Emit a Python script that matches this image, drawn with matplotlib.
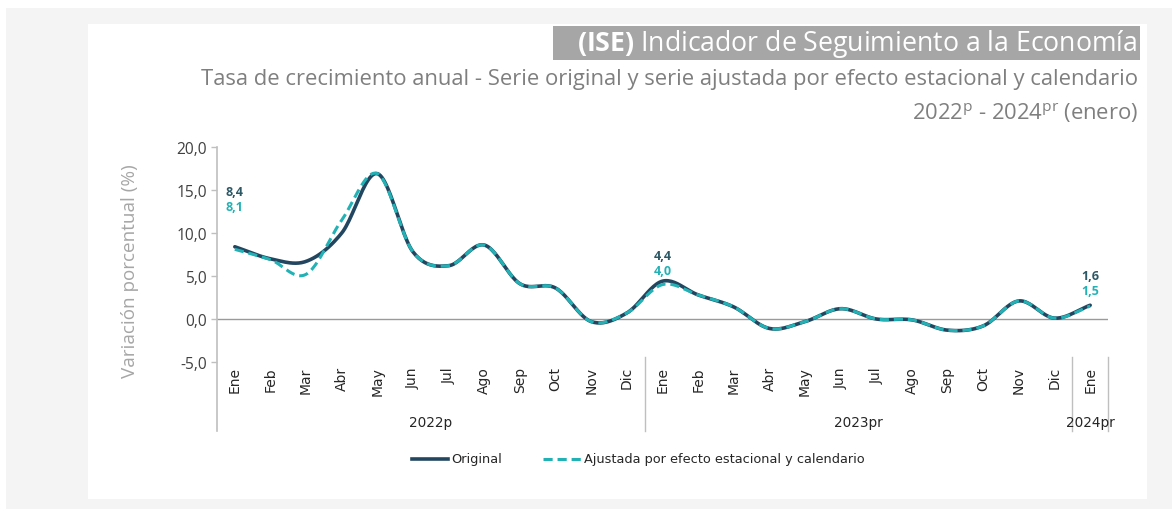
import numpy as np
import matplotlib.pyplot as plt
from matplotlib.patches import Rectangle
from matplotlib.lines import Line2D
from matplotlib.transforms import ScaledTranslation

# data (tasa de crecimiento anual, %)
months = ['Ene', 'Feb', 'Mar', 'Abr', 'May', 'Jun', 'Jul', 'Ago', 'Sep', 'Oct', 'Nov', 'Dic',
          'Ene', 'Feb', 'Mar', 'Abr', 'May', 'Jun', 'Jul', 'Ago', 'Sep', 'Oct', 'Nov', 'Dic',
          'Ene']
years = ['2022p', '2023pr', '2024pr']
year_len = [12, 12, 1]
original = [8.4, 7.0, 6.7, 10.0, 16.9, 7.8, 6.2, 8.6, 4.1, 3.6, -0.3, 0.7,
            4.4, 2.8, 1.4, -1.1, -0.3, 1.2, 0.0, -0.1, -1.3, -0.8, 2.1, 0.1,
            1.6]
ajustada = [8.1, 6.9, 5.2, 11.5, 16.9, 7.8, 6.2, 8.6, 4.1, 3.6, -0.3, 0.7,
            4.0, 2.8, 1.4, -1.1, -0.3, 1.2, 0.0, -0.1, -1.3, -0.8, 2.1, 0.1,
            1.5]
label_idx = [0, 12, 24]

c_orig = '#22465f'
c_adj = '#22b2b6'
narrow = ['Liberation Sans Narrow', 'DejaVu Sans']

plt.rcParams['font.family'] = ['Open Sans', 'DejaVu Sans']
plt.rcParams['mathtext.fontset'] = 'custom'
plt.rcParams['mathtext.rm'] = 'Open Sans'
plt.rcParams['mathtext.bf'] = 'Open Sans:bold'

W, H = 1172, 510
def fx(px):
    return px / W
def fy(py):
    return 1 - py / H

def smooth(y, n=24):
    # catmull-rom style smoothing, like the smoothed lines of the source chart
    y = np.asarray(y, float)
    p = np.concatenate([[2 * y[0] - y[1]], y, [2 * y[-1] - y[-2]]])
    xs, ys = [], []
    for i in range(len(y) - 1):
        p0, p1, p2, p3 = p[i], p[i + 1], p[i + 2], p[i + 3]
        t = np.linspace(0, 1, n, endpoint=False)
        yy = 0.5 * ((2 * p1) + (-p0 + p2) * t + (2 * p0 - 5 * p1 + 4 * p2 - p3) * t ** 2
                    + (-p0 + 3 * p1 - 3 * p2 + p3) * t ** 3)
        xs.append(i + t)
        ys.append(yy)
    xs.append([len(y) - 1])
    ys.append([y[-1]])
    return np.concatenate(xs), np.concatenate(ys)

fig = plt.figure(figsize=(W / 100, H / 100), dpi=100)
fig.patch.set_facecolor('white')
fig.add_artist(Rectangle((fx(6), 0), 1 - fx(6), fy(9), transform=fig.transFigure,
                         facecolor='#f4f4f4', edgecolor='none', zorder=0))
fig.add_artist(Rectangle((fx(88), fy(500)), fx(1147) - fx(88), fy(25) - fy(500),
                         transform=fig.transFigure, facecolor='white', edgecolor='none', zorder=0))

ax = fig.add_axes([fx(217), fy(363), fx(1108) - fx(217), fy(148) - fy(363)])
ax.set_facecolor('none')
x = np.arange(len(months))

sx, sy = smooth(original)
ax.plot(sx, sy, color=c_orig, lw=2.6, solid_capstyle='round', zorder=3)
sx, sy = smooth(ajustada)
ax.plot(sx, sy, color=c_adj, lw=2.2, dashes=(3, 1.6), zorder=4)

# data labels (offsets in inches above the point)
lab_off = [0.49, 0.19, 0.23]
for i, off in zip(label_idx, lab_off):
    ax.text(x[i], original[i], f'{original[i]:.1f}'.replace('.', ','), color='#2d5866',
            fontsize=9, fontweight='bold', ha='center', va='bottom',
            transform=ax.transData + ScaledTranslation(0, off, fig.dpi_scale_trans))
    ax.text(x[i], original[i], f'{ajustada[i]:.1f}'.replace('.', ','), color=c_adj,
            fontsize=9, fontweight='bold', ha='center', va='bottom',
            transform=ax.transData + ScaledTranslation(0, off - 0.15, fig.dpi_scale_trans))

ax.axhline(0, color='#9a9a9a', lw=1, zorder=1)
ax.set_xlim(-0.5, len(months) - 0.5)
ax.set_ylim(-5, 20)
yt = np.arange(-5, 21, 5)
ax.set_yticks(yt)
ax.set_yticklabels([f'{v:.1f}'.replace('.', ',') for v in yt], fontsize=11.2, color='#404040')
ax.tick_params(axis='y', length=4, color='#bfbfbf', width=1, pad=3)
ax.set_xticks(x)
ax.set_xticklabels(months, rotation=90, fontsize=10, color='#262626', family=narrow)
ax.tick_params(axis='x', length=0, pad=3)
for s in ['top', 'right', 'bottom', 'left']:
    ax.spines[s].set_visible(False)

# category axis separators and year labels
sep_tr = ax.get_xaxis_transform()
def ay(py):
    return (363 - py) / 215.0
ax.plot([-0.5, -0.5], [ay(432), 1], color='#bfbfbf', lw=1.2, transform=sep_tr, clip_on=False)
start = 0
for n, yr in zip(year_len, years):
    end = start + n
    ax.plot([end - 0.5, end - 0.5], [ay(432), ay(358)], color='#bfbfbf', lw=1,
            transform=sep_tr, clip_on=False)
    ax.text((start + end - 1) / 2, ay(423), yr, transform=sep_tr, ha='center', va='center',
            fontsize=9.8, color='#262626', family=narrow)
    start = end

fig.text(fx(130), fy(271), 'Variación porcentual (%)', rotation=90, ha='center', va='center',
         fontsize=13.6, color='#a6a6a6')

# titles
fig.add_artist(Rectangle((fx(553), fy(61)), fx(1140) - fx(553), fy(27) - fy(61),
                         transform=fig.transFigure, facecolor='#a6a6a6', edgecolor='none'))
fig.text(fx(1137), fy(44), r'$\mathbf{(ISE)}$ Indicador de Seguimiento a la Economía',
         ha='right', va='center', fontsize=19.2, color='white')
fig.text(fx(1138), fy(80), 'Tasa de crecimiento anual - Serie original y serie ajustada por efecto '
         'estacional y calendario', ha='right', va='center', fontsize=15.8, color='#7f7f7f')
fig.text(fx(1138), fy(113), r'2022$^{\mathrm{p}}$ - 2024$^{\mathrm{pr}}$ (enero)', ha='right',
         va='center', fontsize=15.8, color='#7f7f7f')

# legend
fig.add_artist(Line2D([fx(412), fx(448)], [fy(460), fy(460)], color=c_orig, lw=2.6,
                      transform=fig.transFigure))
fig.text(fx(451), fy(460), 'Original', va='center', fontsize=9.3, color='#262626', family=narrow)
fig.add_artist(Line2D([fx(543), fx(581)], [fy(460), fy(460)], color=c_adj, lw=2.2, dashes=(3, 1.6),
                      transform=fig.transFigure))
fig.text(fx(584), fy(460), 'Ajustada por efecto estacional y calendario', va='center', fontsize=9.3,
         color='#262626', family=narrow)

fig.savefig('out.png', dpi=100)
